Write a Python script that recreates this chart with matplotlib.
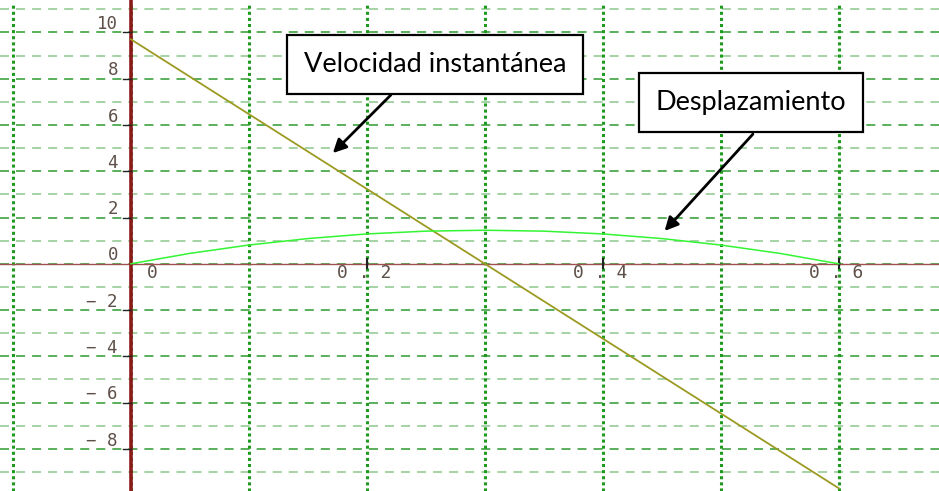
# -*- coding: utf-8 -*-
import matplotlib.pyplot as plt
import numpy as np

# Datos
t_vel = [0.0, 0.6]
v_vel = [9.7, -9.7]

t_desp = [0.0, 0.05, 0.1, 0.15, 0.2, 0.25, 0.3, 0.35, 0.4, 0.45, 0.5, 0.55, 0.6]
s_desp = [0.0, 0.45, 0.81, 1.09, 1.29, 1.41, 1.45, 1.41, 1.29, 1.09, 0.81, 0.45, 0.0]

y_ticks = [10, 8, 6, 4, 2, 0, -2, -4, -6, -8]
y_labels = ["10", "8", "6", "4", "2", "0", "− 2", "− 4", "− 6", "− 8"]
x_ticks = [0.0, 0.2, 0.4, 0.6]
x_labels = ["0", "0 . 2", "0 . 4", "0 . 6"]

v_grid_x = np.arange(-0.1, 0.61, 0.1)
h_grid_y = np.arange(-9, 12, 1)

fig = plt.figure(figsize=(9.39, 4.91), dpi=100)
ax = fig.add_axes([0, 0, 1, 1])
ax.set_xlim(-0.111, 0.685)
ax.set_ylim(-9.82, 11.4)
ax.axis("off")

# Rejilla
for yv in h_grid_y:
    col = "#2e9a2e" if yv % 2 == 0 else "#8cc88c"
    ax.plot([-0.111, 0.685], [yv, yv], color=col, lw=1.1,
            dashes=(5.9, 4.6), zorder=1)
for xv in v_grid_x:
    ax.plot([xv, xv], [-9.82, 11.2], color="#1f9a1f", lw=2.2,
            linestyle=(0, (1, 1)), zorder=1)

# Ejes
ax.plot([-0.111, 0.685], [0, 0], color="#a05050", lw=1.0, zorder=2)
ax.plot([0, 0], [-9.82, 11.4], color="#8b1a1a", lw=2.6, zorder=2)

# Marcas y etiquetas
lab_col = "#5e5048"
fuente = "DejaVu Sans Mono"
for yv, lab in zip(y_ticks, y_labels):
    if yv != 0:
        ax.plot([-0.0068, 0.0], [yv, yv], color="#222222", lw=1.0, zorder=3)
    ax.text(-0.011, yv + 0.36, lab, ha="right", va="center", fontsize=12.5,
            color=lab_col, family=fuente)
for xv, lab in zip(x_ticks, x_labels):
    if xv != 0:
        ax.plot([xv, xv], [-0.2, 0.2], color="#222222", lw=1.5, zorder=3)
        ax.text(xv - 0.002, -0.42, lab, ha="center", va="center", fontsize=13,
                color=lab_col, family=fuente)
    else:
        ax.text(0.018, -0.42, lab, ha="center", va="center", fontsize=13,
                color=lab_col, family=fuente)

# Curvas
ax.plot(t_vel, v_vel, color="#9c9a22", lw=1.3, zorder=4)
ax.plot(t_desp, s_desp, color="#33f533", lw=1.1, zorder=4)

# Cuadros con flechas
caja = dict(boxstyle="square,pad=0.62", fc="white", ec="black", lw=1.6)
flecha = dict(arrowstyle="-|>,head_length=0.8,head_width=0.4",
              color="black", lw=2)
ax.text(0.2576, 8.61, "Velocidad instantánea", ha="center", va="center",
        fontsize=19.5, family="Lato", bbox=caja, zorder=6)
ax.annotate("", xy=(0.1695, 4.70), xytext=(0.222, 7.38),
            arrowprops=flecha, zorder=6)
ax.text(0.5258, 6.97, "Desplazamiento", ha="center", va="center",
        fontsize=19.5, family="Lato", bbox=caja, zorder=6)
ax.annotate("", xy=(0.4508, 1.33), xytext=(0.5288, 5.69),
            arrowprops=flecha, zorder=6)

plt.savefig("out.png", dpi=100)
